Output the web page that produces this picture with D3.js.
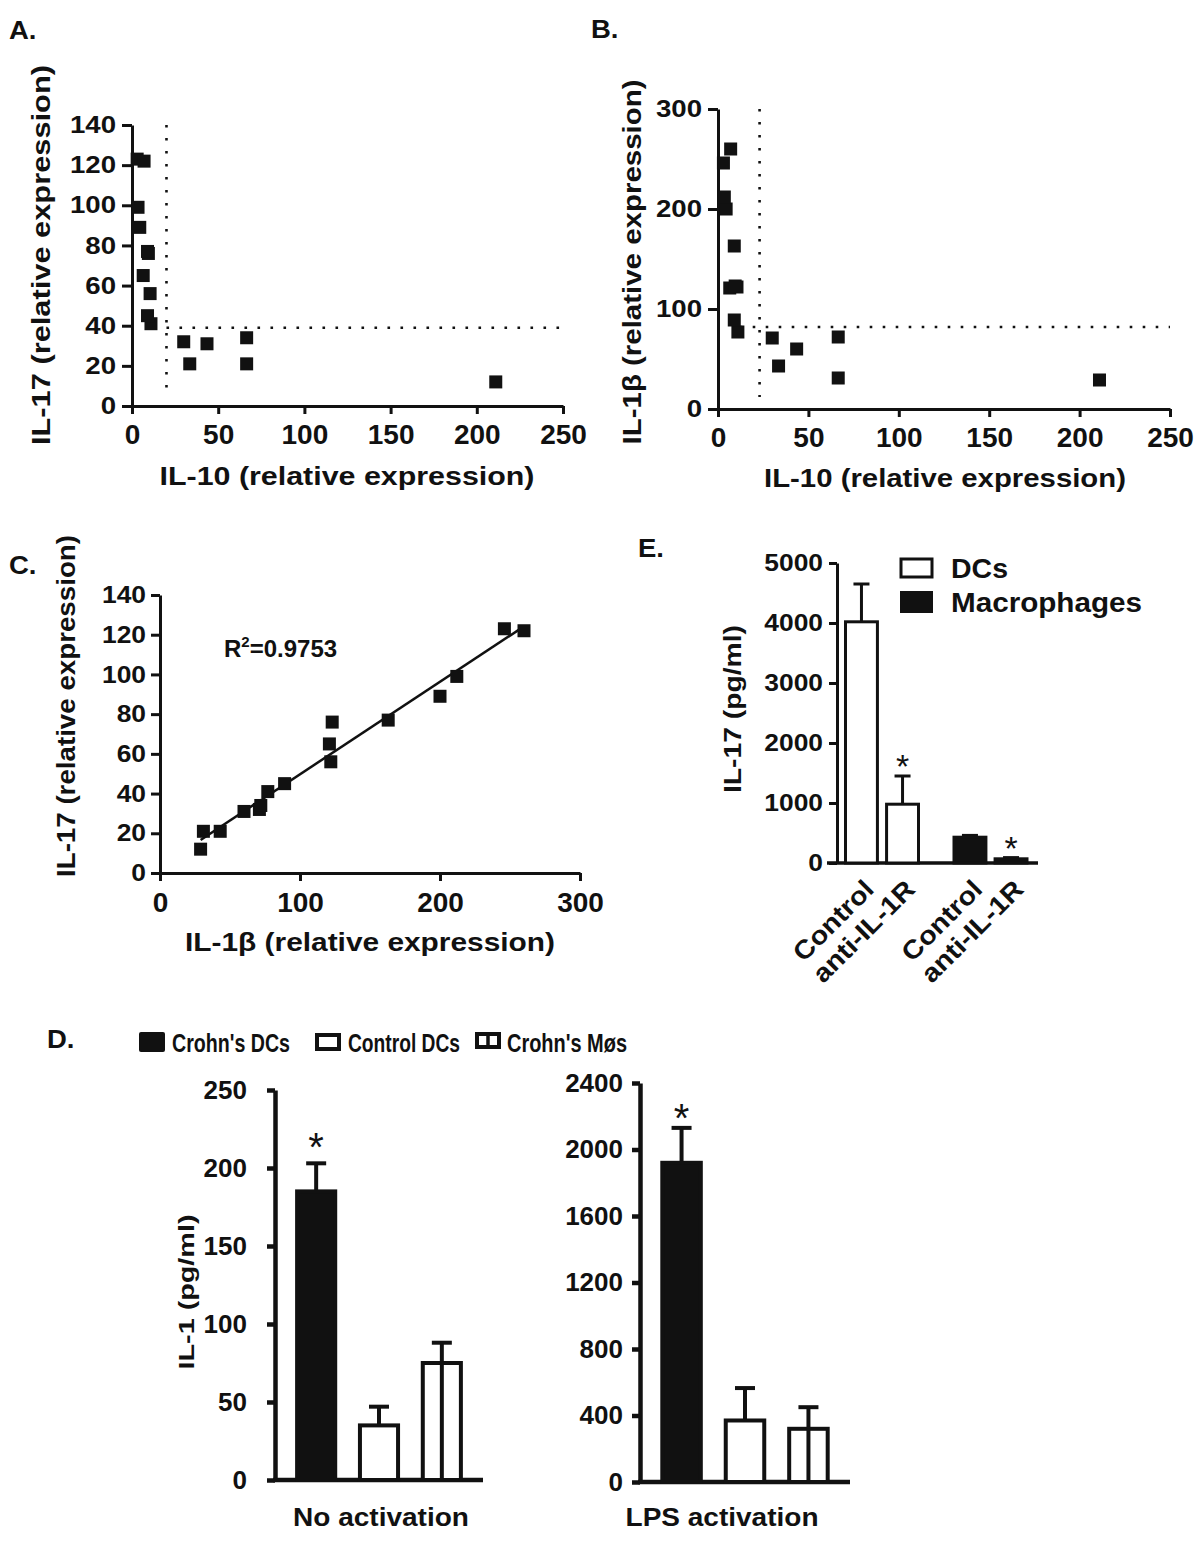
<!DOCTYPE html>
<html>
<head>
<meta charset="utf-8">
<script src="https://cdn.jsdelivr.net/npm/d3@7"></script>
<style>
html,body{margin:0;padding:0;background:#fff;}
svg text{font-family:"Liberation Sans",Arial,sans-serif;font-weight:bold;fill:#111;}
</style>
</head>
<body>
<svg id="fig" width="1200" height="1544"></svg>
<script>
// ---------- DATA ----------
// Panels A, B, C: one entry per sample
const il10 = [211, 33.5, 66.5, 43.5, 30, 66.5, 11, 9, 10.5, 6.5, 9.5, 9, 4.5, 3.5, 3, 7];
const il17 = [12, 21, 21, 31, 32, 34, 41, 45, 56, 65, 76, 77, 89, 99, 123, 122];
const il1b = [29, 43, 31, 60, 71, 72, 77, 89, 122, 121, 123, 163, 200, 212, 246, 260];
const cutIL10A = 20, cutIL17 = 39;
const cutIL10B = 23, cutIL1b = 82;
const r2Label = "0.9753";

// Panel E
const eGroups = ["DCs", "Macrophages"];
const eConds = ["Control", "anti-IL-1R"];
const eMeans = [[4020, 980], [430, 70]];
const eSem = [[630, 470], [30, 20]];
const eStar = [[false, true], [false, true]];

// Panel D
const dCats = ["Crohn's DCs", "Control DCs", "Crohn's Møs"];
const dNoActMean = [185, 35, 75];
const dNoActSem = [18, 12, 13];
const dLpsMean = [1920, 370, 320];
const dLpsSem = [210, 195, 130];

const ticksA_y = [0, 20, 40, 60, 80, 100, 120, 140];
const ticksA_x = [0, 50, 100, 150, 200, 250];
const ticksB_y = [0, 100, 200, 300];
const ticksC_x = [0, 100, 200, 300];
const ticksE_y = [0, 1000, 2000, 3000, 4000, 5000];
const ticksD1_y = [0, 50, 100, 150, 200, 250];
const ticksD2_y = [0, 400, 800, 1200, 1600, 2000, 2400];

// ---------- HELPERS ----------
const svg = d3.select("#fig");
const fmt = d3.format("d");
function stretch(sel, f) {
  sel.each(function () {
    const w = this.getComputedTextLength();
    d3.select(this).attr("textLength", w * f).attr("lengthAdjust", "spacingAndGlyphs");
  });
}
function fitLen(sel, L) {
  sel.attr("textLength", L).attr("lengthAdjust", "spacingAndGlyphs");
}
function styleAxis(g, sw, fs, f) {
  g.select(".domain").attr("stroke", "#111").attr("stroke-width", sw);
  g.selectAll(".tick line").attr("stroke", "#111").attr("stroke-width", sw);
  g.selectAll(".tick text").attr("font-size", fs).attr("fill", "#111")
    .style("font-family", '"Liberation Sans",Arial,sans-serif').style("font-weight", "bold");
  if (f) stretch(g.selectAll(".tick text"), f);
}
function label(x, y, txt, fs, anchor, rot) {
  const t = svg.append("text").attr("font-size", fs).attr("text-anchor", anchor || "start")
    .attr("transform", `translate(${x},${y})` + (rot ? ` rotate(${rot})` : "")).text(txt);
  return t;
}
function dotted(g, x1, y1, x2, y2) {
  g.append("line").attr("x1", x1).attr("y1", y1).attr("x2", x2).attr("y2", y2)
    .attr("stroke", "#111").attr("stroke-width", 2.6).attr("stroke-dasharray", "2.6,10.4");
}
function squares(g, xs, ys, xS, yS) {
  const s = 13;
  g.selectAll(null).data(xs.map((v, i) => [v, ys[i]])).join("rect")
    .attr("x", d => xS(d[0]) - s / 2).attr("y", d => yS(d[1]) - s / 2)
    .attr("width", s).attr("height", s).attr("fill", "#111");
}

// ---------- PANEL A ----------
{
  const x = d3.scaleLinear().domain([0, 250]).range([132, 563]);
  const y = d3.scaleLinear().domain([0, 140]).range([406, 125]);
  const g = svg.append("g");
  const gy = g.append("g").attr("transform", `translate(${x(0)},0)`)
    .call(d3.axisLeft(y).tickValues(ticksA_y).tickFormat(fmt).tickSize(10).tickPadding(6).tickSizeOuter(0));
  styleAxis(gy, 3, 24, 1.15);
  const gx = g.append("g").attr("transform", `translate(0,${y(0)})`)
    .call(d3.axisBottom(x).tickValues(ticksA_x).tickFormat(fmt).tickSize(8).tickPadding(10).tickSizeOuter(0));
  styleAxis(gx, 3, 28, 1.0);
  dotted(g, x(cutIL10A), y(140), x(cutIL10A), y(6));
  dotted(g, x(cutIL10A), y(cutIL17), x(250), y(cutIL17));
  squares(g, il10, il17, x, y);
  fitLen(label(50, 255, "IL-17 (relative expression)", 26, "middle", -90), 380);
  fitLen(label(347, 485, "IL-10 (relative expression)", 26, "middle"), 375);
  stretch(label(9, 39, "A.", 25), 1.1);
}

// ---------- PANEL B ----------
{
  const x = d3.scaleLinear().domain([0, 250]).range([718, 1170]);
  const y = d3.scaleLinear().domain([0, 300]).range([409, 109]);
  const g = svg.append("g");
  const gy = g.append("g").attr("transform", `translate(${x(0)},0)`)
    .call(d3.axisLeft(y).tickValues(ticksB_y).tickFormat(fmt).tickSize(10).tickPadding(6).tickSizeOuter(0));
  styleAxis(gy, 3, 24, 1.15);
  const gx = g.append("g").attr("transform", `translate(0,${y(0)})`)
    .call(d3.axisBottom(x).tickValues(ticksA_x).tickFormat(fmt).tickSize(8).tickPadding(10).tickSizeOuter(0));
  styleAxis(gx, 3, 28, 1.0);
  dotted(g, x(cutIL10B), y(300), x(cutIL10B), y(0) - 12);
  dotted(g, x(12), y(cutIL1b), x(250), y(cutIL1b));
  squares(g, il10, il1b, x, y);
  fitLen(label(641, 262, "IL-1β (relative expression)", 26, "middle", -90), 365);
  fitLen(label(945, 487, "IL-10 (relative expression)", 26, "middle"), 362);
  stretch(label(591, 38, "B.", 25), 1.1);
}

// ---------- PANEL C ----------
{
  const x = d3.scaleLinear().domain([0, 300]).range([160, 580]);
  const y = d3.scaleLinear().domain([0, 140]).range([873, 595]);
  const g = svg.append("g");
  const gy = g.append("g").attr("transform", `translate(${x(0)},0)`)
    .call(d3.axisLeft(y).tickValues(ticksA_y).tickFormat(fmt).tickSize(9).tickPadding(5).tickSizeOuter(0));
  styleAxis(gy, 3, 24, 1.1);
  const gx = g.append("g").attr("transform", `translate(0,${y(0)})`)
    .call(d3.axisBottom(x).tickValues(ticksC_x).tickFormat(fmt).tickSize(8).tickPadding(11).tickSizeOuter(0));
  styleAxis(gx, 3, 28, 1.0);
  // least-squares regression line over the data range
  const mx = d3.mean(il1b), my = d3.mean(il17);
  const b = d3.sum(il1b.map((v, i) => (v - mx) * (il17[i] - my))) / d3.sum(il1b.map(v => (v - mx) ** 2));
  const a = my - b * mx;
  const [x0, x1] = d3.extent(il1b);
  g.append("line").attr("x1", x(x0)).attr("y1", y(a + b * x0)).attr("x2", x(x1)).attr("y2", y(a + b * x1))
    .attr("stroke", "#111").attr("stroke-width", 2.5);
  squares(g, il1b, il17, x, y);
  const t = svg.append("text").attr("x", 224).attr("y", 657).attr("font-size", 24);
  t.append("tspan").text("R");
  t.append("tspan").attr("font-size", 15).attr("dy", -10).text("2");
  t.append("tspan").attr("dy", 10).text("=" + r2Label);
  fitLen(label(75, 706, "IL-17 (relative expression)", 26, "middle", -90), 342);
  fitLen(label(370, 951, "IL-1β (relative expression)", 26, "middle"), 370);
  stretch(label(9, 574, "C.", 25), 1.1);
}

// ---------- PANEL E ----------
{
  const y = d3.scaleLinear().domain([0, 5000]).range([863, 563]);
  const gx = d3.scalePoint().domain(eGroups).range([882, 990.5]);
  const ix = d3.scaleBand().domain(eConds).range([-38, 38]).paddingInner(0.15);
  const g = svg.append("g");
  const gy = g.append("g").attr("transform", "translate(837,0)")
    .call(d3.axisLeft(y).tickValues(ticksE_y).tickFormat(fmt).tickSize(8).tickPadding(6).tickSizeOuter(0));
  styleAxis(gy, 3, 24, 1.1);
  g.append("line").attr("x1", 827).attr("x2", 1038).attr("y1", y(0)).attr("y2", y(0))
    .attr("stroke", "#111").attr("stroke-width", 3.5);
  eGroups.forEach((grp, gi) => {
    eConds.forEach((c, ci) => {
      const bx = gx(grp) + ix(c), bw = ix.bandwidth(), m = eMeans[gi][ci], s = eSem[gi][ci];
      const cx = bx + bw / 2;
      g.append("line").attr("x1", cx).attr("x2", cx).attr("y1", y(m)).attr("y2", y(m + s))
        .attr("stroke", "#111").attr("stroke-width", 3);
      g.append("line").attr("x1", cx - 8).attr("x2", cx + 8).attr("y1", y(m + s)).attr("y2", y(m + s))
        .attr("stroke", "#111").attr("stroke-width", 3);
      g.append("rect").attr("x", bx + 1.5).attr("y", y(m)).attr("width", bw - 3).attr("height", y(0) - y(m))
        .attr("fill", gi === 0 ? "#fff" : "#111").attr("stroke", "#111").attr("stroke-width", 3);
      if (eStar[gi][ci]) {
        svg.append("text").attr("x", cx).attr("y", y(m + s) + 2)
          .attr("text-anchor", "middle").attr("font-size", 34).style("font-weight", "normal")
          .attr("fill", "#444").text("*");
      }
      stretch(label(cx + 14, 891, c, 26, "end", -45), 1.1);
    });
  });
  // legend
  g.append("rect").attr("x", 901).attr("y", 559).attr("width", 31).attr("height", 18)
    .attr("fill", "#fff").attr("stroke", "#111").attr("stroke-width", 3);
  g.append("rect").attr("x", 900).attr("y", 591).attr("width", 33).attr("height", 22).attr("fill", "#111");
  fitLen(label(951, 578, "DCs", 27), 57);
  fitLen(label(951, 612, "Macrophages", 27), 191);
  fitLen(label(741, 709, "IL-17 (pg/ml)", 23, "middle", -90), 168);
  stretch(label(638, 557, "E.", 25), 1.1);
}

// ---------- PANEL D ----------
function dPanel(xr, yDomain, yRange, ticks, means, sems, starIdx, starOff, xlab, xlabX, xlabLen, tickFs, tickPad) {
  const y = d3.scaleLinear().domain(yDomain).range(yRange);
  const x = d3.scaleBand().domain(dCats).range(xr).paddingInner(0.33).paddingOuter(0.32);
  const g = svg.append("g");
  const gy = g.append("g").attr("transform", `translate(${xr[0]},0)`)
    .call(d3.axisLeft(y).tickValues(ticks).tickFormat(fmt).tickSize(8).tickPadding(tickPad).tickSizeOuter(0));
  styleAxis(gy, 4.5, tickFs, 1.0);
  g.append("line").attr("x1", xr[0] - 2).attr("x2", xr[1]).attr("y1", y(0)).attr("y2", y(0))
    .attr("stroke", "#111").attr("stroke-width", 4.5);
  dCats.forEach((c, i) => {
    const bx = x(c), bw = x.bandwidth(), cx = bx + bw / 2, m = means[i], s = sems[i];
    g.append("line").attr("x1", cx).attr("x2", cx).attr("y1", y(m)).attr("y2", y(m + s))
      .attr("stroke", "#111").attr("stroke-width", 4);
    g.append("line").attr("x1", cx - 10).attr("x2", cx + 10).attr("y1", y(m + s)).attr("y2", y(m + s))
      .attr("stroke", "#111").attr("stroke-width", 4);
    g.append("rect").attr("x", bx + 2).attr("y", y(m)).attr("width", bw - 4).attr("height", y(0) - y(m))
      .attr("fill", i === 0 ? "#111" : "#fff").attr("stroke", "#111").attr("stroke-width", 4);
    if (i === 2) {
      g.append("line").attr("x1", cx).attr("x2", cx).attr("y1", y(m)).attr("y2", y(0))
        .attr("stroke", "#111").attr("stroke-width", 4);
    }
    if (i === starIdx) {
      svg.append("text").attr("x", cx).attr("y", y(m + s) + starOff).attr("text-anchor", "middle")
        .attr("font-size", 40).style("font-weight", "normal").text("*");
    }
  });
  fitLen(label(xlabX, 1526, xlab, 25, "middle"), xlabLen);
}
dPanel([275, 483], [0, 250], [1480, 1090], ticksD1_y, dNoActMean, dNoActSem, 0, -2, "No activation", 381, 176, 26, 20);
dPanel([640, 850], [0, 2400], [1482, 1083], ticksD2_y, dLpsMean, dLpsSem, 0, 4, "LPS activation", 722, 193, 26, 9);
fitLen(label(194, 1292, "IL-1 (pg/ml)", 22, "middle", -90), 155);
stretch(label(47, 1048, "D.", 25), 1.1);
// D legend
svg.append("rect").attr("x", 139).attr("y", 1032).attr("width", 26).attr("height", 20).attr("rx", 2).attr("fill", "#111");
svg.append("rect").attr("x", 317).attr("y", 1035).attr("width", 22).attr("height", 14)
  .attr("fill", "#fff").attr("stroke", "#111").attr("stroke-width", 4);
svg.append("rect").attr("x", 477).attr("y", 1034).attr("width", 22).attr("height", 13)
  .attr("fill", "#fff").attr("stroke", "#111").attr("stroke-width", 4);
svg.append("line").attr("x1", 488).attr("x2", 488).attr("y1", 1034).attr("y2", 1047)
  .attr("stroke", "#111").attr("stroke-width", 3.5);
fitLen(label(172, 1052, dCats[0], 26), 118);
fitLen(label(348, 1052, dCats[1], 26), 112);
fitLen(label(507, 1052, dCats[2], 26), 120);
</script>
</body>
</html>
